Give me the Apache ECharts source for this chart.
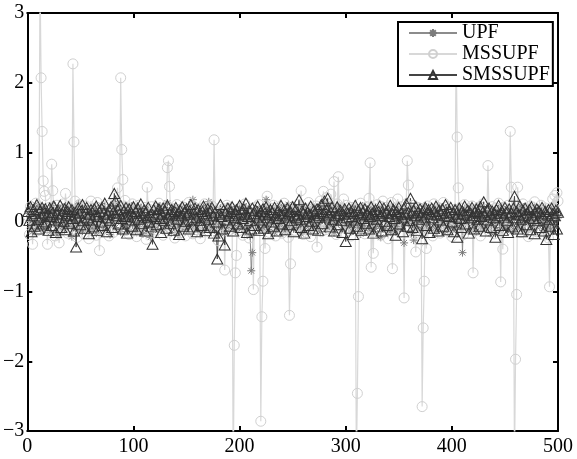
<!DOCTYPE html>
<html>
<head>
<meta charset="utf-8">
<script src="https://cdn.jsdelivr.net/npm/echarts@6/dist/echarts.min.js"></script>
<style>html,body{margin:0;padding:0;background:#fff}#c{width:577px;height:459px}</style>
</head>
<body>
<div id="c"></div>
<script>
var seriesNames = ['UPF', 'MSSUPF', 'SMSSUPF'];
var xTicks = [0, 100, 200, 300, 400, 500];
var yTicks = [-3, -2, -1, 0, 1, 2, 3];

var upf = [
0.12,-0.05,0.21,0.08,-0.14,0.17,0.02,0.25,-0.09,0.11,0.19,-0.03,0.07,0.22,-0.12,0.04,0.16,-0.07,0.13,0.01,
0.18,-0.15,0.09,0.24,-0.02,0.06,0.14,-0.19,0.03,0.2,0.1,-0.08,0.15,0.05,-0.11,0.23,0.0,0.12,-0.06,0.17,
0.08,-0.21,0.13,0.04,0.19,-0.1,0.07,0.26,-0.04,0.11,0.02,-0.13,0.18,0.09,-0.07,0.14,0.21,-0.02,0.06,0.15,
-0.09,0.12,0.03,0.2,-0.16,0.08,0.17,-0.05,0.1,0.24,0.01,-0.12,0.15,0.06,-0.03,0.19,0.09,-0.18,0.13,0.04,
0.22,0.07,-0.08,0.16,0.28,0.02,0.11,-0.14,0.18,0.05,0.13,-0.06,0.2,0.09,-0.11,0.14,0.03,0.23,-0.04,0.1,
0.17,-0.13,0.06,0.21,0.0,-0.09,0.15,0.08,-0.17,0.12,0.19,0.04,-0.07,0.16,0.1,-0.22,0.07,0.13,0.02,-0.05,
0.18,0.09,-0.12,0.14,0.23,-0.03,0.08,0.17,-0.1,0.05,0.12,0.27,-0.06,0.11,0.03,-0.15,0.2,0.07,0.14,-0.02,
0.1,-0.18,0.16,0.04,0.21,-0.07,0.12,0.01,0.18,-0.11,0.09,0.24,-0.04,0.13,0.06,0.32,0.15,-0.09,0.08,0.19,
-0.05,0.11,0.02,0.17,-0.14,0.22,0.07,0.13,-0.08,0.16,0.29,0.03,-0.12,0.1,0.2,0.06,-0.03,0.14,-0.2,0.09,
0.18,0.0,-0.1,0.15,0.08,-0.16,0.12,0.22,0.04,-0.07,0.13,0.19,-0.02,0.1,0.05,-0.13,0.17,0.08,-0.05,0.21,
0.11,-0.09,0.06,0.16,-0.14,0.2,0.03,-0.06,0.12,-0.2,-0.7,-0.44,0.09,0.15,-0.04,0.18,0.07,-0.12,0.13,0.02,
0.19,-0.08,0.1,0.04,0.32,0.14,-0.11,0.08,0.21,-0.02,0.12,0.06,-0.15,0.17,0.09,0.01,-0.07,0.23,0.11,-0.04,
0.15,0.05,-0.13,0.18,0.08,0.25,-0.06,0.12,0.0,0.16,-0.1,0.09,0.2,0.03,-0.08,0.14,0.07,-0.17,0.11,0.22,
0.04,-0.05,0.13,0.18,-0.12,0.09,0.02,0.16,-0.09,0.21,0.06,0.12,-0.03,0.19,0.1,-0.14,0.07,0.15,0.27,0.01,
-0.1,0.14,0.08,0.2,-0.06,0.11,0.17,0.03,-0.15,0.12,0.05,0.22,-0.02,0.09,0.16,-0.11,0.13,0.04,0.19,-0.07,
0.1,0.18,-0.04,0.07,0.14,-0.13,0.21,0.06,0.0,0.12,-0.08,0.16,0.09,-0.17,0.13,0.23,0.02,-0.05,0.11,0.17,
0.05,-0.12,0.14,0.08,-0.03,0.19,0.1,-0.09,0.15,0.03,0.12,-0.06,-0.22,0.2,0.07,0.13,-0.1,0.16,0.04,0.09,
0.18,-0.14,0.06,0.11,0.22,-0.04,0.13,0.01,-0.11,0.17,0.08,0.14,-0.07,0.1,-0.3,0.05,0.19,0.12,-0.02,0.15,
0.07,-0.16,0.11,-0.26,0.2,0.04,0.13,-0.08,0.17,0.09,0.02,-0.12,0.16,0.23,0.06,-0.05,0.12,0.18,-0.1,0.08,
0.14,0.03,-0.07,0.19,0.1,-0.13,0.06,0.21,0.12,-0.04,0.15,0.08,-0.15,0.11,0.2,0.0,-0.09,0.17,0.05,0.13,
-0.06,0.16,0.09,-0.11,0.12,0.22,0.03,-0.08,0.14,-0.44,0.07,0.18,-0.02,0.1,0.15,-0.12,0.06,0.2,0.11,-0.05,
0.13,0.04,-0.14,0.17,0.08,0.24,-0.07,0.12,0.02,0.19,-0.1,0.09,0.14,-0.03,0.21,0.06,-0.16,0.11,0.16,0.01,
-0.08,0.13,0.18,0.05,-0.12,0.1,0.22,-0.04,0.15,0.07,-0.1,0.12,0.19,0.03,-0.06,0.16,0.09,-0.13,0.2,0.11,
0.04,-0.09,0.14,0.08,0.23,-0.05,0.12,0.17,-0.14,0.1,0.06,0.19,-0.02,0.13,0.08,-0.11,0.16,0.21,0.03,-0.07,
0.12,0.18,-0.04,0.09,0.15,-0.12,0.07,0.2,0.11,-0.06,0.14,0.02,-0.1,0.17,0.08,0.13,-0.05,0.19,0.1,0.06
];

var mssupf = [
0.08,-0.18,0.22,0.05,-0.32,0.14,-0.06,0.27,0.1,-0.12,0.19,3.6,2.07,1.3,0.59,0.44,0.38,0.12,-0.32,0.06,
0.21,-0.09,0.83,0.45,0.15,-0.2,0.03,0.24,-0.14,-0.3,0.11,0.18,-0.05,0.26,0.02,0.41,0.13,-0.16,0.09,0.2,
-0.08,0.16,2.27,1.15,0.3,0.04,-0.22,0.12,0.25,-0.1,0.07,0.19,-0.17,0.1,0.23,-0.04,0.14,-0.24,0.06,0.3,
0.11,-0.13,0.2,0.02,-0.19,0.28,0.09,-0.41,0.15,0.04,-0.11,0.22,0.13,-0.07,0.18,0.0,-0.2,0.25,0.07,0.14,
-0.15,0.1,0.21,-0.05,0.49,0.12,0.23,2.07,1.04,0.61,0.17,0.31,-0.12,0.08,0.2,-0.18,0.14,0.03,0.26,-0.09,
0.13,0.19,-0.21,0.07,0.24,-0.03,0.16,0.1,-0.14,0.21,0.05,-0.25,0.5,0.12,0.18,-0.08,0.22,0.01,-0.16,0.15,
0.09,-0.12,0.2,0.27,-0.06,0.13,0.04,-0.19,0.17,0.1,0.23,0.78,0.88,0.51,0.14,-0.1,0.06,0.19,-0.23,0.11,
0.25,-0.04,0.12,0.18,-0.15,0.08,0.21,0.02,-0.2,0.16,0.11,0.28,-0.07,0.14,0.05,-0.17,0.22,0.09,-0.11,0.19,
0.03,0.15,-0.24,0.2,0.1,-0.06,0.26,0.13,-0.14,0.07,0.18,0.01,-0.09,0.23,0.12,1.18,0.16,-0.18,0.08,-0.27,
0.14,0.21,-0.05,0.1,0.19,-0.69,0.06,0.24,-0.13,0.15,0.02,0.2,0.1,-3.8,-1.77,-0.73,-0.48,0.11,0.18,-0.12,
0.07,0.22,-0.19,0.13,0.26,-0.08,0.16,0.04,-0.23,0.12,0.19,0.05,-0.97,0.14,0.21,-0.1,0.09,0.25,0.02,-2.86,
-1.36,-0.85,0.12,-0.38,0.18,0.37,0.06,-0.15,0.2,0.11,-0.07,0.24,0.15,-0.2,0.08,0.17,-0.02,0.22,0.1,-0.16,
0.13,0.27,-0.09,0.05,0.19,-0.22,-1.34,-0.6,0.14,0.21,0.03,-0.12,0.17,0.09,0.25,-0.05,0.11,0.45,0.06,-0.18,
0.2,0.12,-0.1,0.16,0.28,0.04,-0.21,0.13,0.19,-0.07,0.1,0.23,-0.36,0.15,0.08,0.3,-0.14,0.18,0.44,0.02,
-0.11,0.35,0.14,0.22,-0.06,0.4,0.1,0.17,0.58,0.09,-0.18,0.26,0.65,0.13,-0.09,0.2,0.07,0.33,-0.15,0.11,
0.24,-0.04,0.16,0.09,-0.2,0.21,0.12,0.03,0.18,-3.5,-2.46,-1.07,0.15,0.27,-0.08,0.1,0.19,-0.17,0.05,0.22,
0.13,0.34,0.85,-0.65,0.08,-0.45,0.2,0.14,-0.11,0.25,0.06,0.17,-0.19,0.11,0.3,0.02,-0.08,0.21,0.15,-0.24,
0.09,0.18,0.28,-0.67,0.12,0.2,-0.06,0.14,0.33,0.04,-0.15,0.22,0.1,0.17,-1.09,0.08,0.26,0.88,0.53,0.13,
-0.1,0.19,0.07,0.24,-0.17,-0.43,0.11,0.21,0.03,-0.12,0.16,-2.65,-1.52,-0.85,0.09,-0.38,0.23,0.14,-0.05,0.18,
0.1,-0.2,0.26,0.06,0.15,-0.09,0.21,0.12,-0.16,0.19,0.04,0.28,-0.11,0.13,0.08,0.22,-0.06,0.16,0.1,-0.21,
0.14,0.03,0.18,2.6,1.22,0.49,0.11,-0.13,0.2,0.07,-0.18,0.25,0.12,0.02,-0.1,0.19,0.14,0.06,0.23,-0.73,
0.1,0.17,-0.12,0.08,0.21,0.15,-0.2,0.12,0.26,0.05,-0.08,0.18,0.11,0.81,0.16,-0.14,0.09,0.22,0.03,-0.17,
0.2,0.13,-0.06,0.27,0.1,-0.86,0.15,-0.39,0.21,0.07,-0.12,0.18,0.24,0.04,1.3,0.5,0.16,0.09,-3.5,-1.97,
-1.04,0.5,0.12,0.2,-0.15,0.08,0.26,0.14,-0.09,0.19,0.05,-0.21,0.16,0.23,0.1,-0.07,0.13,0.29,0.02,-0.14,
0.18,0.11,-0.1,0.24,0.07,0.15,-0.19,0.2,0.12,0.04,-0.23,-0.93,0.17,0.09,0.33,0.22,0.38,0.14,0.42,0.3
];

var smssupf = [
0.15,0.02,0.22,-0.14,0.09,0.18,-0.06,0.12,0.25,0.04,-0.1,0.16,0.07,0.21,-0.03,0.13,0.19,0.0,0.1,-0.12,
0.2,0.08,-0.05,0.14,0.23,0.03,-0.15,0.11,0.17,0.06,0.24,-0.08,0.12,0.01,0.19,-0.11,0.09,0.15,0.22,-0.02,
0.1,0.18,0.05,-0.13,0.14,-0.36,0.07,0.2,0.12,-0.04,0.16,0.25,0.02,-0.09,0.13,0.21,0.06,-0.17,0.11,0.18,
0.03,-0.07,0.19,0.1,0.23,-0.12,0.08,0.15,0.0,0.2,-0.05,0.13,0.27,0.06,-0.14,0.11,0.17,0.02,0.22,-0.08,
0.14,0.41,0.3,0.09,0.18,-0.03,0.12,0.24,0.05,-0.1,0.16,0.08,0.21,-0.16,0.1,0.19,0.03,0.13,-0.06,0.22,
0.07,0.15,-0.11,0.2,0.04,0.12,0.26,-0.02,0.09,0.17,-0.13,0.14,0.06,0.21,0.0,0.1,-0.07,-0.32,0.18,0.08,
0.23,-0.04,0.13,0.19,0.05,-0.15,0.11,0.2,0.02,0.16,-0.09,0.24,0.07,0.13,-0.02,0.18,0.1,-0.12,0.15,0.21,
0.04,0.12,-0.18,0.17,0.09,0.22,-0.06,0.14,0.01,0.19,0.11,-0.1,0.16,0.25,0.03,-0.07,0.13,0.2,0.06,-0.14,
0.18,0.1,0.02,-0.05,0.15,0.23,0.07,-0.12,0.12,0.19,0.04,-0.08,0.16,0.21,0.09,-0.16,0.14,0.0,-0.53,-0.2,
0.11,0.25,0.08,-0.1,0.17,-0.33,0.13,0.03,0.2,0.09,-0.06,0.15,0.22,-0.13,0.06,0.12,0.18,-0.03,0.1,0.24,
-0.08,0.14,0.05,0.19,0.11,0.27,-0.15,0.08,0.16,0.02,-0.1,0.2,0.12,-0.05,0.17,0.07,0.23,-0.12,0.1,0.15,
0.03,0.19,-0.09,0.13,0.22,0.06,-0.17,0.11,0.18,0.0,0.14,-0.06,0.21,0.09,-0.13,0.16,0.05,0.12,0.24,-0.03,
0.1,0.17,-0.11,0.07,0.2,0.13,-0.04,0.15,0.02,0.22,-0.14,0.09,0.18,0.06,0.11,0.32,0.04,-0.08,0.16,0.12,
-0.16,0.2,0.08,0.14,-0.05,0.11,0.23,0.01,-0.1,0.17,0.12,0.06,0.19,-0.12,0.09,0.15,0.25,-0.02,0.13,0.3,
0.07,0.18,0.34,0.1,-0.07,0.14,0.21,0.04,-0.13,0.16,0.09,0.22,-0.04,0.12,0.17,0.02,-0.15,0.11,0.19,-0.28,
0.06,0.13,0.2,-0.09,0.15,0.08,-0.18,0.12,0.24,0.03,-0.06,0.17,0.1,0.21,-0.12,0.14,0.05,0.19,-0.02,0.11,
0.16,-0.1,0.08,0.22,0.13,-0.16,0.1,0.18,0.04,-0.07,0.15,0.23,0.09,-0.13,0.12,0.2,0.01,0.14,-0.05,0.17,
0.08,0.24,-0.11,0.12,0.18,0.05,-0.19,0.15,0.1,0.21,-0.03,0.13,0.07,-0.14,0.19,0.11,0.26,-0.06,0.14,0.02,
0.34,0.12,-0.08,0.17,0.09,0.22,-0.12,0.14,0.04,0.19,0.1,-0.24,0.16,0.07,0.21,-0.05,0.13,0.18,-0.15,0.11,
0.2,0.06,-0.09,0.15,0.23,0.1,-0.13,0.17,0.03,0.12,0.19,-0.06,0.09,0.25,0.14,-0.11,0.08,0.16,0.21,0.0,
0.13,-0.14,0.18,0.07,-0.22,0.11,0.2,0.05,-0.08,0.16,0.12,0.23,-0.03,0.1,0.17,-0.16,0.14,0.06,0.21,0.09,
-0.1,0.15,0.19,0.04,0.12,-0.06,0.22,0.08,0.14,0.29,0.1,-0.13,0.17,0.03,0.2,0.11,-0.08,0.16,0.06,0.13,
-0.22,0.18,0.09,0.24,-0.05,0.12,0.16,-0.12,0.07,0.21,0.14,0.02,-0.15,0.19,0.1,0.13,-0.07,0.2,0.37,0.06,
0.15,-0.1,0.11,0.23,0.04,-0.14,0.17,0.09,0.2,-0.04,0.13,0.07,0.18,-0.11,0.22,0.1,0.05,-0.17,0.14,0.19,
0.02,0.16,-0.08,0.12,0.21,0.07,-0.13,0.15,-0.25,0.1,0.18,0.04,-0.06,0.2,0.12,-0.18,0.09,0.17,-0.1,0.14
];

function pairs(arr) {
  return arr.map(function (v, i) { return [i + 1, v]; });
}

var serif = 'Liberation Serif';
var asterisk = 'path://M0,-10L0,10M-10,0L10,0M-7.07,-7.07L7.07,7.07M-7.07,7.07L7.07,-7.07';

function axisCommon(extra) {
  var base = {
    axisLine: { show: true, onZero: false, lineStyle: { color: '#000', width: 2 } },
    axisTick: { show: true, inside: true, length: 5, lineStyle: { color: '#000', width: 2 } },
    splitLine: { show: false }
  };
  for (var k in extra) base[k] = extra[k];
  return base;
}

var chart = echarts.init(document.getElementById('c'), null, { renderer: 'canvas' });
chart.setOption({
  animation: false,
  backgroundColor: '#fff',
  grid: { left: 26, right: 19, top: 13, bottom: 28, containLabel: false },
  xAxis: [
    axisCommon({ type: 'value', position: 'bottom', min: xTicks[0], max: xTicks[xTicks.length - 1], interval: 100,
      axisLabel: { show: true, color: '#000', fontFamily: serif, fontSize: 20, margin: 6 } }),
    axisCommon({ type: 'value', position: 'top', min: xTicks[0], max: xTicks[xTicks.length - 1], interval: 100,
      axisLabel: { show: false } })
  ],
  yAxis: [
    axisCommon({ type: 'value', position: 'left', min: yTicks[0], max: yTicks[yTicks.length - 1], interval: 1,
      axisLabel: { show: true, color: '#000', fontFamily: serif, fontSize: 20, margin: 3,
        formatter: function (v) { return String(v).replace('-', '\u2212'); } } }),
    axisCommon({ type: 'value', position: 'right', min: yTicks[0], max: yTicks[yTicks.length - 1], interval: 1,
      axisLabel: { show: false } })
  ],
  legend: {
    orient: 'vertical',
    left: 398, top: 22,
    padding: [1, 3, 1, 10],
    itemGap: 1,
    itemWidth: 48, itemHeight: 10,
    backgroundColor: '#fff',
    borderColor: '#000', borderWidth: 2,
    textStyle: { fontFamily: serif, fontSize: 20, color: '#000', lineHeight: 20 },
    data: seriesNames
  },
  series: [
    {
      name: seriesNames[0], type: 'line', data: pairs(upf),
      symbol: asterisk, symbolSize: 8, showAllSymbol: true,
      lineStyle: { color: '#8c8c8c', width: 1 },
      itemStyle: { color: 'transparent', borderColor: '#7c7c7c', borderWidth: 1 }
    },
    {
      name: seriesNames[1], type: 'line', data: pairs(mssupf),
      symbol: 'circle', symbolSize: 10, showAllSymbol: true,
      lineStyle: { color: '#d8d8d8', width: 1.2 },
      itemStyle: { color: 'transparent', borderColor: '#d0d0d0', borderWidth: 1 }
    },
    {
      name: seriesNames[2], type: 'line', data: pairs(smssupf),
      symbol: 'triangle', symbolSize: [11, 10], showAllSymbol: true,
      lineStyle: { color: '#444', width: 1 },
      itemStyle: { color: 'transparent', borderColor: '#333', borderWidth: 1 }
    }
  ]
});
</script>
</body>
</html>
